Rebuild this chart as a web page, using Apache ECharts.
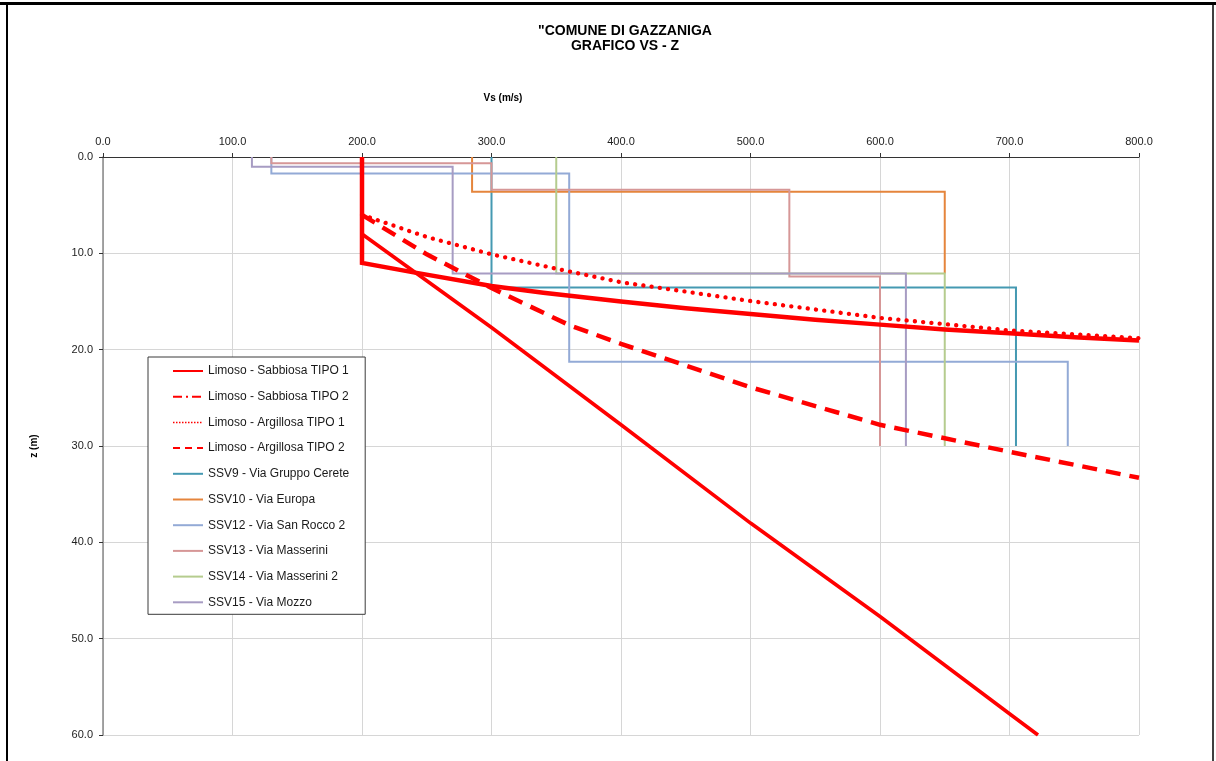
<!DOCTYPE html>
<html>
<head>
<meta charset="utf-8">
<script src="https://cdn.jsdelivr.net/npm/echarts@6/dist/echarts.min.js"></script>
<style>
html,body{margin:0;padding:0;background:#fff;}
#chart{width:1216px;height:761px;}
</style>
</head>
<body>
<div id="chart"></div>
<script>
// ---- data (Vs in m/s, z in m) ----
const xTicks = [0, 100, 200, 300, 400, 500, 600, 700, 800];
const yTicks = [0, 10, 20, 30, 40, 50, 60];

const seriesNames = [
  'Limoso - Sabbiosa TIPO 1',
  'Limoso - Sabbiosa TIPO 2',
  'Limoso - Argillosa TIPO 1',
  'Limoso - Argillosa TIPO 2',
  'SSV9 - Via Gruppo Cerete',
  'SSV10 - Via Europa',
  'SSV12 - Via San Rocco 2',
  'SSV13 - Via Masserini',
  'SSV14 - Via Masserini 2',
  'SSV15 - Via Mozzo'
];

const sabbiosa1 = [[200,0],[200,11.0],[241,12.0],[300,13.4],[340,14.1],[400,15.0],[450,15.7],[500,16.3],[550,16.9],[600,17.4],[650,17.9],[700,18.3],[750,18.7],[800,19.05]];
const sabbiosa2 = [[200,0],[200,8.0],[300,17.7],[400,27.8],[500,38.0],[600,47.7],[700,57.8],[722,60]];
const argillosa1 = [[200,6.0],[250,8.3],[300,10.1],[350,11.6],[400,13.0],[500,14.95],[600,16.7],[700,18.0],[800,18.8]];
const argillosa2 = [[200,6.0],[250,10.1],[300,13.6],[360,17.45],[400,19.4],[500,23.9],[600,27.8],[700,30.6],[800,33.3]];

const ssv9  = [[300,0],[300,13.55],[705,13.55],[705,30]];
const ssv10 = [[285,0],[285,3.6],[650,3.6],[650,12.1]];
const ssv12 = [[130,0],[130,1.7],[360,1.7],[360,21.25],[745,21.25],[745,30]];
const ssv13 = [[130,0],[130,0.65],[300,0.65],[300,3.4],[530,3.4],[530,12.4],[600,12.4],[600,30]];
const ssv14 = [[350,0],[350,12.1],[650,12.1],[650,30]];
const ssv15 = [[115,0],[115,1.0],[270,1.0],[270,12.1],[620,12.1],[620,30]];

const seriesData = [sabbiosa1, sabbiosa2, argillosa1, argillosa2, ssv9, ssv10, ssv12, ssv13, ssv14, ssv15];

// ---- styles ----
const RED = '#FF0000';
const styles = [
  {color: RED, width: 4.5, type: 'solid', z: 5},
  {color: RED, width: 3.6, type: 'solid', z: 5},
  {color: RED, width: 4.3, type: [0.1, 8.2], cap: 'round', z: 5},
  {color: RED, width: 4.5, type: [15, 9], z: 5},
  {color: '#4599B2', width: 2, type: 'solid', z: 3},
  {color: '#E5853C', width: 2, type: 'solid', z: 3},
  {color: '#93AAD6', width: 2, type: 'solid', z: 3},
  {color: '#D69797', width: 2, type: 'solid', z: 3},
  {color: '#B5CC8E', width: 2, type: 'solid', z: 3},
  {color: '#A79CC3', width: 2, type: 'solid', z: 3}
];
const legendTypes = ['solid', [9, 4, 2, 4], [1.5, 1.5], [7, 5], 'solid', 'solid', 'solid', 'solid', 'solid', 'solid'];

const series = seriesNames.map((name, i) => ({
  name: name,
  type: 'line',
  data: seriesData[i],
  showSymbol: false,
  symbol: 'none',
  z: styles[i].z,
  clip: true,
  animation: false,
  lineStyle: {
    color: styles[i].color,
    width: styles[i].width,
    type: styles[i].type,
    cap: styles[i].cap || 'butt',
    join: 'miter'
  },
  itemStyle: {color: styles[i].color},
  emphasis: {disabled: true}
}));

const chart = echarts.init(document.getElementById('chart'), null, {renderer: 'canvas'});
chart.setOption({
  backgroundColor: '#ffffff',
  animation: false,
  grid: {left: 103, top: 157, width: 1036, height: 578, containLabel: false},
  xAxis: {
    type: 'value',
    position: 'top',
    min: xTicks[0],
    max: xTicks[xTicks.length - 1],
    interval: 100,
    name: 'Vs (m/s)',
    nameLocation: 'middle',
    nameGap: 54,
    nameTextStyle: {fontFamily: 'Liberation Sans', fontWeight: 'bold', fontSize: 10, color: '#000', padding: [0, 236, 0, 0]},
    axisLine: {show: true, lineStyle: {color: '#333', width: 1}},
    axisTick: {show: true, inside: false, length: 4, lineStyle: {color: '#333'}},
    axisLabel: {margin: 10, fontFamily: 'Liberation Sans', fontSize: 11, color: '#222', formatter: v => v.toFixed(1)},
    splitLine: {show: true, lineStyle: {color: '#D6D6D6', width: 1}}
  },
  yAxis: {
    type: 'value',
    inverse: true,
    min: yTicks[0],
    max: yTicks[yTicks.length - 1],
    interval: 10,
    name: 'z (m)',
    nameLocation: 'middle',
    nameGap: 64,
    nameRotate: 90,
    nameTextStyle: {fontFamily: 'Liberation Sans', fontWeight: 'bold', fontSize: 10, color: '#000'},
    axisLine: {show: true, lineStyle: {color: '#888', width: 1.5}},
    axisTick: {show: true, inside: false, length: 4, lineStyle: {color: '#333'}},
    axisLabel: {margin: 10, fontFamily: 'Liberation Sans', fontSize: 11, color: '#222', formatter: v => v.toFixed(1)},
    splitLine: {show: true, lineStyle: {color: '#D6D6D6', width: 1}}
  },
  legend: {
    orient: 'vertical',
    left: 148,
    top: 357,
    padding: [8, 16, 6, 24],
    itemWidth: 30,
    itemHeight: 14,
    itemGap: 13.7,
    itemTextGap: 4,
    selectedMode: false,
    backgroundColor: '#ffffff',
    borderColor: '#3a3a3a',
    borderWidth: 1,
    borderRadius: 0,
    itemStyle: {opacity: 0},
    textStyle: {fontFamily: 'Liberation Sans', fontSize: 12, color: '#1a1a1a'},
    data: seriesNames.map((n, i) => ({
      name: n,
      itemStyle: {opacity: 0},
      lineStyle: {width: i === 2 ? 1.5 : 2, type: legendTypes[i], color: styles[i].color, cap: 'butt'}
    }))
  },
  graphic: [
    {type: 'line', shape: {x1: 0, y1: 3.5, x2: 1216, y2: 3.5}, style: {stroke: '#000', lineWidth: 3}, silent: true},
    {type: 'line', shape: {x1: 7, y1: 3, x2: 7, y2: 761}, style: {stroke: '#000', lineWidth: 2}, silent: true},
    {type: 'line', shape: {x1: 1213, y1: 3, x2: 1213, y2: 761}, style: {stroke: '#000', lineWidth: 1.5}, silent: true},
    {type: 'text', x: 625, y: 31, style: {text: '"COMUNE DI GAZZANIGA', fontFamily: 'Liberation Sans', fontWeight: 'bold', fontSize: 14, fill: '#000', align: 'center', verticalAlign: 'middle'}},
    {type: 'text', x: 625, y: 46, style: {text: 'GRAFICO VS - Z', fontFamily: 'Liberation Sans', fontWeight: 'bold', fontSize: 14, fill: '#000', align: 'center', verticalAlign: 'middle'}}
  ],
  series: series
});
</script>
</body>
</html>
